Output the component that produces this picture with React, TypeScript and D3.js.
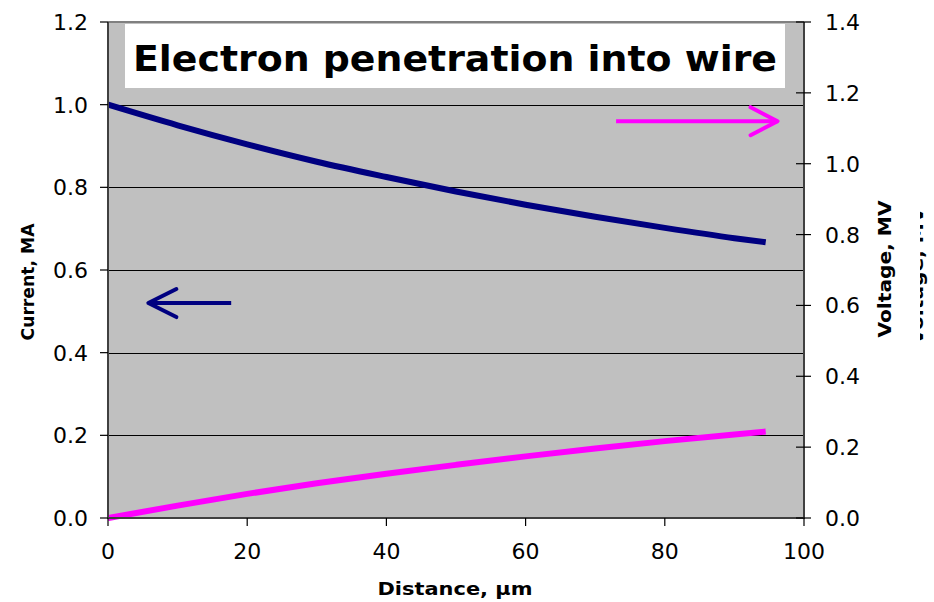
import React from "react";
import * as d3 from "d3";

// Distance along the wire, µm
const distance = [0, 10, 20, 30, 40, 50, 60, 70, 80, 90, 94.5];
// Beam current, MA (left axis)
const current = [1.0, 0.95, 0.904, 0.862, 0.825, 0.79, 0.758, 0.729, 0.702, 0.677, 0.667];
// Voltage, MV (right axis)
const voltage = [0, 0.035, 0.068, 0.098, 0.125, 0.15, 0.174, 0.196, 0.217, 0.236, 0.244];

const xTicks = [0, 20, 40, 60, 80, 100];
const leftTicks = [0, 0.2, 0.4, 0.6, 0.8, 1.0, 1.2];
const rightTicks = [0, 0.2, 0.4, 0.6, 0.8, 1.0, 1.2, 1.4];

const titleText = "Electron penetration into wire";

const W = 934;
const H = 602;
const L = 108;
const R = 804;
const T = 22;
const B = 518;

const FONT = "'DejaVu Sans', Verdana, sans-serif";

export default function App() {
  const x = d3.scaleLinear().domain([0, 100]).range([L, R]);
  const yL = d3.scaleLinear().domain([0, 1.2]).range([B, T]);
  const yR = d3.scaleLinear().domain([0, 1.4]).range([B, T]);

  const pts = distance.map((d, i) => ({ d, c: current[i], v: voltage[i] }));
  const currentLine = d3
    .line<{ d: number; c: number; v: number }>()
    .x((p) => x(p.d))
    .y((p) => yL(p.c))
    .curve(d3.curveMonotoneX);
  const voltageLine = d3
    .line<{ d: number; c: number; v: number }>()
    .x((p) => x(p.d))
    .y((p) => yR(p.v))
    .curve(d3.curveMonotoneX);

  const fmt = d3.format(".1f");

  // arrow annotations, placed in data space
  const la = { x0: x(17.7), x1: x(5.8), y: yL(0.52) };
  const ra = { x0: x(73), x1: x(96.2), y: yR(1.12) };

  return (
    <svg
      width={W}
      height={H}
      style={{ position: "absolute", left: 0, top: 0, background: "#fff" }}
    >
      <defs>
        <clipPath id="sliver">
          <rect x={920} y={0} width={8} height={H} />
        </clipPath>
      </defs>
      {/* plot area */}
      <rect x={L} y={T} width={R - L} height={B - T} fill="#c0c0c0" />
      {/* gridlines */}
      {leftTicks
        .filter((t) => t > 0 && t < 1.2)
        .map((t) => (
          <line
            key={"g" + t}
            x1={L}
            x2={R}
            y1={Math.round(yL(t)) + 0.5}
            y2={Math.round(yL(t)) + 0.5}
            stroke="#000"
            strokeWidth={1}
          />
        ))}
      <line x1={L} x2={R} y1={T} y2={T} stroke="#808080" strokeWidth={2} />

      {/* title */}
      <rect x={125} y={24} width={660} height={64} fill="#fff" />
      <text
        x={133}
        y={71}
        textAnchor="start"
        fontFamily={FONT}
        fontWeight="bold"
        fontSize={35}
        textLength={644}
        lengthAdjust="spacingAndGlyphs"
        fill="#000"
      >
        {titleText}
      </text>

      {/* series */}
      <path
        d={currentLine(pts) || ""}
        fill="none"
        stroke="#000080"
        strokeWidth={6}
      />
      <path
        d={voltageLine(pts) || ""}
        fill="none"
        stroke="#ff00ff"
        strokeWidth={6}
      />

      {/* arrows */}
      <g stroke="#000080" strokeWidth={4} fill="none" strokeLinecap="round">
        <line x1={la.x0} x2={la.x1} y1={la.y} y2={la.y} strokeLinecap="butt" />
        <polyline
          points={`${la.x1 + 28},${la.y - 14} ${la.x1},${la.y} ${la.x1 + 28},${la.y + 14}`}
          strokeLinejoin="round"
        />
      </g>
      <g stroke="#ff00ff" strokeWidth={4} fill="none" strokeLinecap="round">
        <line x1={ra.x0} x2={ra.x1} y1={ra.y} y2={ra.y} strokeLinecap="butt" />
        <polyline
          points={`${ra.x1 - 27},${ra.y - 14} ${ra.x1},${ra.y} ${ra.x1 - 27},${ra.y + 14}`}
          strokeLinejoin="round"
        />
      </g>

      {/* axes */}
      <line x1={L} x2={L} y1={T} y2={B + 1} stroke="#404040" strokeWidth={2} />
      <line x1={R} x2={R} y1={T} y2={B + 1} stroke="#404040" strokeWidth={2} />
      <line x1={L} x2={R} y1={B} y2={B} stroke="#404040" strokeWidth={2} />

      {leftTicks.map((t) => (
        <g key={"l" + t}>
          <line x1={100} x2={L} y1={yL(t)} y2={yL(t)} stroke="#000" strokeWidth={1.2} />
          <text
            x={88}
            y={yL(t) + 8}
            textAnchor="end"
            fontFamily={FONT}
            fontSize={22}
            fill="#000"
          >
            {fmt(t)}
          </text>
        </g>
      ))}
      {rightTicks.map((t) => (
        <g key={"r" + t}>
          <line x1={796} x2={811} y1={yR(t)} y2={yR(t)} stroke="#000" strokeWidth={1.2} />
          <text
            x={825}
            y={yR(t) + 8}
            textAnchor="start"
            fontFamily={FONT}
            fontSize={22}
            fill="#000"
          >
            {fmt(t)}
          </text>
        </g>
      ))}
      {xTicks.map((t) => (
        <g key={"x" + t}>
          <line x1={x(t)} x2={x(t)} y1={B} y2={B + 8} stroke="#000" strokeWidth={1.2} />
          <text
            x={x(t)}
            y={559}
            textAnchor="middle"
            fontFamily={FONT}
            fontSize={22}
            fill="#000"
          >
            {t}
          </text>
        </g>
      ))}

      {/* axis titles */}
      <text
        x={455}
        y={595}
        textAnchor="middle"
        fontFamily={FONT}
        fontWeight="bold"
        fontSize={18}
        textLength={155}
        lengthAdjust="spacingAndGlyphs"
        fill="#000"
      >
        Distance, µm
      </text>
      <text
        transform={`translate(34,282) rotate(-90)`}
        textAnchor="middle"
        fontFamily={FONT}
        fontWeight="bold"
        fontSize={18}
        textLength={117}
        lengthAdjust="spacingAndGlyphs"
        fill="#000"
      >
        Current, MA
      </text>
      <text
        transform={`translate(891,269) rotate(-90)`}
        textAnchor="middle"
        fontFamily={FONT}
        fontWeight="bold"
        fontSize={18}
        textLength={137}
        lengthAdjust="spacingAndGlyphs"
        fill="#000"
      >
        Voltage, MV
      </text>
      <g clipPath="url(#sliver)">
        <text
          transform={`translate(923,276) rotate(-90)`}
          textAnchor="middle"
          fontFamily={FONT}
          fontWeight="bold"
          fontSize={18}
          textLength={137}
          lengthAdjust="spacingAndGlyphs"
          fill="#000"
        >
          Voltage, MV
        </text>
      </g>
    </svg>
  );
}
